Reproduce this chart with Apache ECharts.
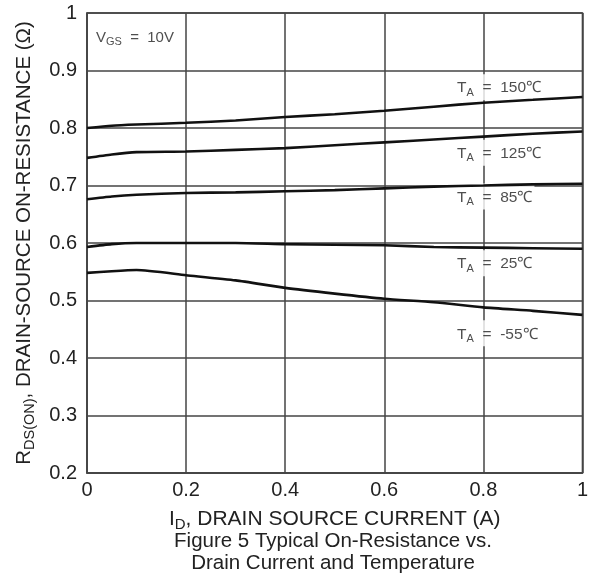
<!DOCTYPE html>
<html>
<head>
<meta charset="UTF-8">
<script src="https://cdn.jsdelivr.net/npm/echarts@6/dist/echarts.min.js"></script>
<style>
  html, body { margin: 0; padding: 0; background: #fff; }
  #chart { width: 591px; height: 579px; }
</style>
</head>
<body>
<div id="chart"></div>
<script>
// drain current (A)
var current = [0, 0.05, 0.1, 0.2, 0.3, 0.4, 0.5, 0.6, 0.7, 0.8, 0.9, 1.0];

// on-resistance (ohm) per temperature
var r150 = [0.800, 0.804, 0.806, 0.809, 0.813, 0.819, 0.824, 0.830, 0.837, 0.844, 0.849, 0.854];
var r125 = [0.748, 0.754, 0.758, 0.759, 0.762, 0.765, 0.770, 0.775, 0.780, 0.785, 0.790, 0.794];
var r85  = [0.676, 0.681, 0.684, 0.687, 0.688, 0.690, 0.692, 0.695, 0.698, 0.700, 0.702, 0.703];
var r25  = [0.593, 0.598, 0.600, 0.600, 0.600, 0.598, 0.597, 0.596, 0.593, 0.592, 0.591, 0.590];
var rm55 = [0.548, 0.551, 0.553, 0.544, 0.535, 0.522, 0.512, 0.503, 0.497, 0.488, 0.482, 0.475];

// curve labels: [x, y, temperature text]
var curveLabels = [
  [0.743, 0.871, '150℃'],
  [0.743, 0.757, '125℃'],
  [0.743, 0.681, '85℃'],
  [0.743, 0.565, '25℃'],
  [0.743, 0.443, '-55℃']
];
var vgsLabel = [0.018, 0.957];

function pairs(ys) {
  return current.map(function (x, i) { return [x, ys[i]]; });
}

function curve(ys) {
  return {
    type: 'line',
    data: pairs(ys),
    symbol: 'none',
    smooth: 0.2,
    z: 3,
    lineStyle: { color: '#111', width: 2.6 },
    silent: true
  };
}

var font = 'Liberation Sans, Arial, sans-serif';
var ink = '#222';

function subRich(big, small, drop) {
  return {
    a: { fontSize: big, color: ink, fontFamily: font },
    s: { fontSize: small, color: ink, fontFamily: font, padding: [drop, 0, 0, 0] }
  };
}

var chart = echarts.init(document.getElementById('chart'));

chart.setOption({
  backgroundColor: '#fff',
  animation: false,
  textStyle: { fontFamily: font },
  title: {
    text: 'Figure 5 Typical On-Resistance vs.\nDrain Current and Temperature',
    left: 328,
    top: 525,
    textAlign: 'center',
    textStyle: { fontSize: 20.5, fontWeight: 'normal', color: ink, lineHeight: 22, fontFamily: font }
  },
  grid: {
    left: 87, right: 5, top: 13, bottom: 106,
    show: true, borderColor: '#444', borderWidth: 1.5
  },
  xAxis: {
    type: 'value',
    min: 0, max: 1, interval: 0.2,
    name: '{a|I}{s|D}{a|, DRAIN SOURCE CURRENT (A)}',
    nameLocation: 'middle',
    nameGap: 33,
    nameTextStyle: { rich: subRich(21, 15, 11) },
    axisLine: { show: true, lineStyle: { color: '#444', width: 1.5 } },
    axisTick: { show: false },
    axisLabel: { fontSize: 20, color: ink, margin: 7 },
    splitLine: { show: true, lineStyle: { color: '#444', width: 1.5 } }
  },
  yAxis: {
    type: 'value',
    min: 0.2, max: 1, interval: 0.1,
    name: '{a|R}{s|DS(ON)}{a|, DRAIN-SOURCE ON-RESISTANCE (Ω)}',
    nameLocation: 'middle',
    nameRotate: 90,
    nameGap: 50,
    nameTextStyle: { rich: subRich(20.5, 14.5, 11) },
    axisLine: { show: true, lineStyle: { color: '#444', width: 1.5 } },
    axisTick: { show: false },
    axisLabel: { fontSize: 20, color: ink, margin: 10 },
    splitLine: { show: true, lineStyle: { color: '#444', width: 1.5 } }
  },
  series: [
    curve(r150), curve(r125), curve(r85), curve(r25), curve(rm55),
    {
      type: 'scatter',
      symbolSize: 0,
      silent: true,
      z: 1,
      data: curveLabels.map(function (d) { return { value: [d[0], d[1]], name: d[2] }; }),
      label: {
        show: true,
        position: 'inside',
        align: 'left',
        verticalAlign: 'middle',
        backgroundColor: '#fff',
        padding: [4, 2, 2, 2],
        formatter: function (p) { return '{a|T}{s|A}{a|  =  ' + p.name + '}'; },
        rich: subRich(15.5, 11, 9)
      }
    },
    {
      type: 'scatter',
      symbolSize: 0,
      silent: true,
      z: 1,
      data: [vgsLabel],
      label: {
        show: true,
        position: 'inside',
        align: 'left',
        verticalAlign: 'middle',
        formatter: '{a|V}{s|GS}{a|  =  10V}',
        rich: subRich(15, 11, 9)
      }
    }
  ]
});
</script>
</body>
</html>
